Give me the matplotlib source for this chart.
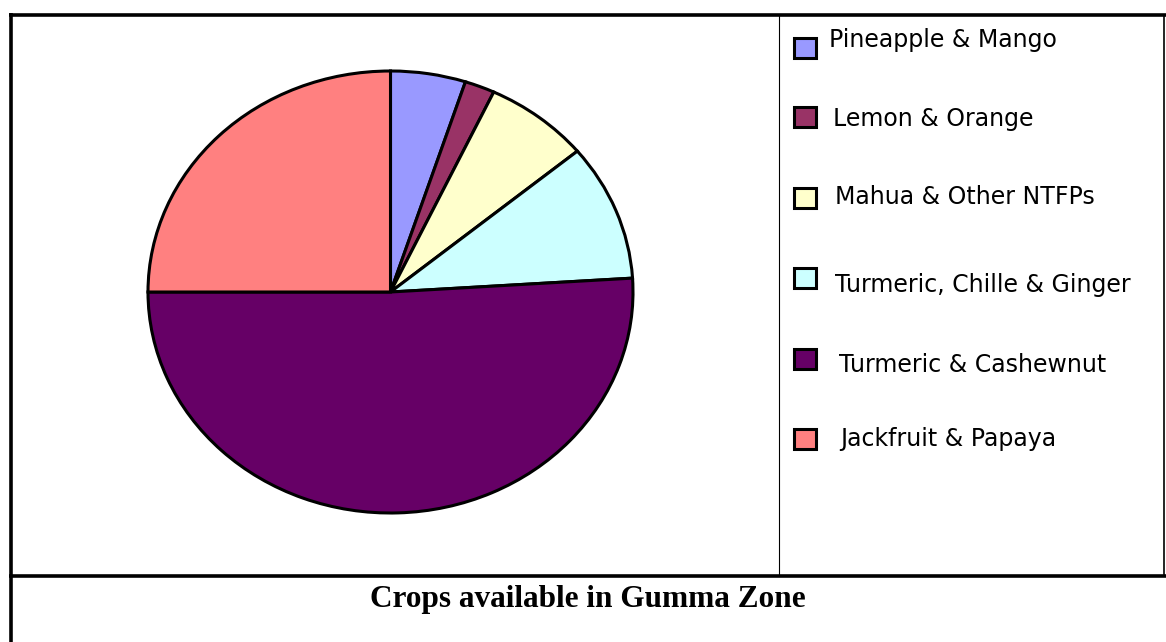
import matplotlib
matplotlib.use("Agg")
import matplotlib.pyplot as plt
from matplotlib.patches import Rectangle
from matplotlib.lines import Line2D

# crop shares in Gumma zone (percent)
crops = ["Pineapple & Mango", "Lemon & Orange", "Mahua & Other NTFPs",
         "Turmeric, Chille & Ginger", "Turmeric & Cashewnut", "Jackfruit & Papaya"]
shares = [5, 2, 7, 10, 51, 25]
colours = ["#9999FF", "#993366", "#FFFFCC", "#CCFFFF", "#660066", "#FF8080"]
caption = "Crops available in Gumma Zone"

W, H = 1166, 642
fig = plt.figure(figsize=(W / 100, H / 100), dpi=100)
fig.patch.set_facecolor("white")

def fx(px):
    return px / W

def fy(py):
    return 1 - py / H

# table-like frame round the chart
def hline(y, x0, x1, lw):
    fig.add_artist(Line2D([fx(x0), fx(x1)], [fy(y), fy(y)], color="black",
                          lw=lw, solid_capstyle="butt"))

def vline(x, y0, y1, lw):
    fig.add_artist(Line2D([fx(x), fx(x)], [fy(y0), fy(y1)], color="black",
                          lw=lw, solid_capstyle="butt"))

hline(14.5, 9, 1166, 2.6)
hline(576, 9, 1166, 2.6)
vline(10.5, 13, 642, 2.6)
vline(778.5, 14, 576, 0.8)
vline(1164, 14, 576, 1.2)

# the pie, stretched into an ellipse like the original
ax = fig.add_axes([fx(148), fy(513), fx(633) - fx(148), (513 - 71) / H])
ax.pie(shares, colors=colours, startangle=90, counterclock=False,
       wedgeprops=dict(edgecolor="black", linewidth=2.2))
ax.set_aspect("auto")
ax.set_xlim(-1.0, 1.0)
ax.set_ylim(-1.0, 1.0)
ax.axis("off")

# legend drawn by hand so it sits like the source
sq_y = [48, 117, 198, 278, 359, 439]
txt_y = [40, 119, 197, 285, 365, 439]
txt_x = [829, 833, 835, 835, 839, 840]
for i, name in enumerate(crops):
    fig.add_artist(Rectangle((fx(794), fy(sq_y[i] + 10)), fx(22), 20 / H,
                             facecolor=colours[i], edgecolor="black", lw=2.2))
    fig.text(fx(txt_x[i]), fy(txt_y[i]), name, fontsize=17,
             family="DejaVu Sans", va="center", ha="left")

fig.text(fx(588), fy(600), caption, fontsize=22.5, fontweight="bold",
         family="Liberation Serif", ha="center", va="center")

fig.savefig("out.png", dpi=100, facecolor="white")
